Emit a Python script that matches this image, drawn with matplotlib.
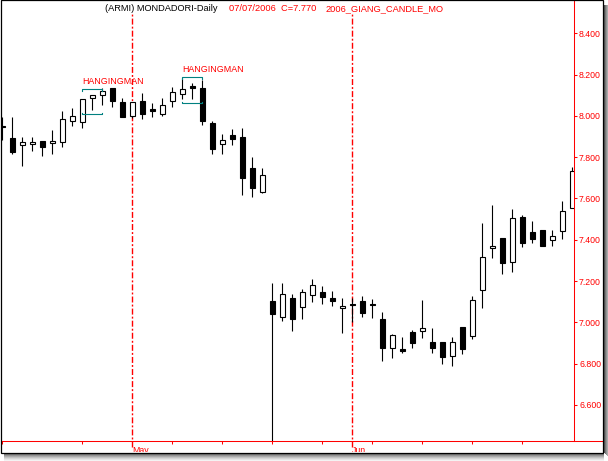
import matplotlib
matplotlib.use('Agg')
from matplotlib import pyplot as plt
from matplotlib.lines import Line2D
from matplotlib.patches import Rectangle

plt.rcParams['font.family'] = ['Liberation Sans', 'DejaVu Sans']

# daily candles (price in EUR)
opens = [7.950, 7.892, 7.859, 7.864, 7.878, 7.867, 7.872, 7.977, 7.972, 8.085,
         8.101, 8.134, 8.066, 8.000, 8.074, 8.033, 8.008, 8.074, 8.105, 8.146,
         8.134, 7.967, 7.862, 7.908, 7.899, 7.749, 7.630, 7.104, 7.028, 7.117,
         7.073, 7.133, 7.146, 7.117, 7.068, 7.089, 7.104, 7.089, 7.016, 6.875,
         6.870, 6.952, 6.957, 6.904, 6.904, 6.839, 6.976, 6.936, 7.155, 7.359,
         7.407, 7.291, 7.509, 7.436, 7.447, 7.398, 7.441, 7.553]
highs = [7.993, 7.993, 7.896, 7.896, 7.878, 7.932, 8.024, 8.037, 8.082, 8.100,
         8.134, 8.134, 8.088, 8.066, 8.109, 8.061, 8.088, 8.138, 8.182, 8.158,
         8.175, 7.975, 7.912, 7.935, 7.940, 7.800, 7.746, 7.189, 7.192, 7.138,
         7.162, 7.210, 7.176, 7.152, 7.117, 7.117, 7.128, 7.112, 7.049, 6.944,
         6.931, 6.963, 7.108, 6.971, 6.904, 6.931, 6.976, 7.128, 7.483, 7.569,
         7.407, 7.549, 7.520, 7.491, 7.447, 7.447, 7.588, 7.751]
lows = [7.883, 7.816, 7.759, 7.831, 7.807, 7.816, 7.851, 7.953, 7.940, 8.029,
        8.053, 8.045, 7.993, 7.988, 7.985, 7.993, 8.001, 8.045, 8.082, 8.082,
        7.956, 7.816, 7.814, 7.859, 7.617, 7.609, 7.625, 6.400, 7.008, 6.960,
        7.015, 7.097, 7.088, 7.079, 6.947, 7.003, 7.025, 7.020, 6.815, 6.829,
        6.853, 6.875, 6.923, 6.850, 6.797, 6.790, 6.846, 6.918, 7.068, 7.310,
        7.236, 7.243, 7.367, 7.383, 7.371, 7.371, 7.405, 7.553]
closes = [7.945, 7.827, 7.875, 7.875, 7.848, 7.878, 7.984, 8.000, 8.082, 8.100,
          8.122, 8.074, 7.993, 8.066, 8.008, 8.024, 8.053, 8.114, 8.129, 8.135,
          7.977, 7.838, 7.883, 7.887, 7.701, 7.649, 7.714, 7.039, 7.136, 7.015,
          7.146, 7.181, 7.122, 7.105, 7.081, 7.083, 7.044, 7.083, 6.877, 6.939,
          6.863, 6.902, 6.971, 6.877, 6.834, 6.907, 6.871, 7.108, 7.315, 7.371,
          7.286, 7.504, 7.383, 7.402, 7.371, 7.418, 7.538, 7.733]

week_ticks = [0, 8, 17, 22, 27, 32, 37, 42, 47, 52]
month_lines = [13, 35]
month_names = ['May', 'Jun']
price_levels = [6.6, 6.8, 7.0, 7.2, 7.4, 7.6, 7.8, 8.0, 8.2, 8.4]

# hanging man marks: (first candle, last candle, bracket top, bracket bottom)
patterns = [(8, 10, 8.130, 8.008), (18, 20, 8.187, 8.061)]

W, H = 608, 461


def fx(x):
    return x / W


def fy(y):
    return 1 - y / H


fig = plt.figure(figsize=(W / 100, H / 100), dpi=100)
ax = fig.add_axes([fx(1), fy(441.3), fx(574.3) - fx(1), fy(1) - fy(441.3)])

xs = list(range(len(closes)))
ax.vlines(xs, lows, highs, color='black', linewidth=0.8, zorder=2)
bottoms = [min(o, c) for o, c in zip(opens, closes)]
heights = [max(abs(c - o), 0.004) for o, c in zip(opens, closes)]
faces = ['black' if c < o else 'white' for o, c in zip(opens, closes)]
ax.bar(xs, heights, bottom=bottoms, width=0.55, color=faces,
       edgecolor='black', linewidth=0.8, zorder=3)

for a, b, top, bot in patterns:
    ax.plot([a, a, b, b], [top - 0.008, top, top, top - 0.008],
            color='#008080', linewidth=0.8, zorder=4)
    ax.plot([a, a, b, b], [bot + 0.008, bot, bot, bot + 0.008],
            color='#008080', linewidth=0.8, zorder=4)
    ax.text(a, top + 0.036, 'HANGINGMAN', color='red', fontsize=6.4,
            ha='left', va='center', zorder=5)

for m, name in zip(month_lines, month_names):
    ax.axvline(m, ymin=-0.013, ymax=0.9727, color='red', linewidth=1.0,
               linestyle=(0, (4.3, 1.5, 1.4, 1.5)), clip_on=False, zorder=1)
    ax.text(m, -0.0105, name, transform=ax.get_xaxis_transform(),
            ha='left', va='top', fontsize=6.3, color='red', clip_on=False)

ax.set_xlim(-0.13, 57.2)
ax.set_ylim(6.424, 8.556)

ax.set_xticks(week_ticks)
ax.tick_params(axis='x', direction='out', length=1.8, width=0.75,
               color='red', labelbottom=False)
ax.yaxis.tick_right()
ax.set_yticks(price_levels)
ax.set_yticklabels(['%.3f' % v for v in price_levels])
ax.tick_params(axis='y', direction='out', length=2.4, width=0.75,
               colors='red', labelsize=6.3, pad=1)

for side in ['left', 'top', 'bottom']:
    ax.spines[side].set_visible(False)
ax.spines['right'].set_color('red')
ax.spines['right'].set_linewidth(0.75)

# bottom axis line runs through to the frame
fig.add_artist(Line2D([fx(1), fx(603)], [fy(441.3), fy(441.3)], color='red',
                      linewidth=0.75, transform=fig.transFigure, zorder=6))

# title
fig.text(fx(105), fy(8.7), '(ARMI) MONDADORI-Daily', fontsize=6.7,
         color='black', ha='left', va='center')
fig.text(fx(229), fy(8.7), '07/07/2006  C=7.770', fontsize=6.7,
         color='red', ha='left', va='center')
fig.text(fx(326), fy(8.7), '2006_GIANG_CANDLE_MO', fontsize=6.7,
         color='red', ha='left', va='center')

# frame with drop shadow
fig.add_artist(Rectangle((0, 0), 1, fy(452), facecolor='white',
                         edgecolor='none', transform=fig.transFigure, zorder=15))
fig.add_artist(Rectangle((fx(603), 0), 1 - fx(603), 1, facecolor='white',
                         edgecolor='none', transform=fig.transFigure, zorder=15))
greys = ['#555555', '#777777', '#939393', '#ababab', '#c2c2c2', '#d6d6d6',
         '#e6e6e6', '#f3f3f3']
for i, g in enumerate(greys):
    fig.add_artist(Rectangle((fx(4), fy(453 + i + 1)), fx(604) - fx(4), 1 / H,
                             facecolor=g, edgecolor='none',
                             transform=fig.transFigure, zorder=16))
for i, g in enumerate(greys[:5]):
    fig.add_artist(Rectangle((fx(603.5 + i), fy(453 + i)), 1 / W,
                             fy(5) - fy(453 + i), facecolor=g, edgecolor='none',
                             transform=fig.transFigure, zorder=16))
fig.add_artist(Rectangle((fx(0.5), fy(452.5)), fx(603) - fx(0.5),
                         fy(0.5) - fy(452.5), fill=False, edgecolor='black',
                         linewidth=0.9, transform=fig.transFigure, zorder=20))

plt.savefig('out.png', dpi=100)
